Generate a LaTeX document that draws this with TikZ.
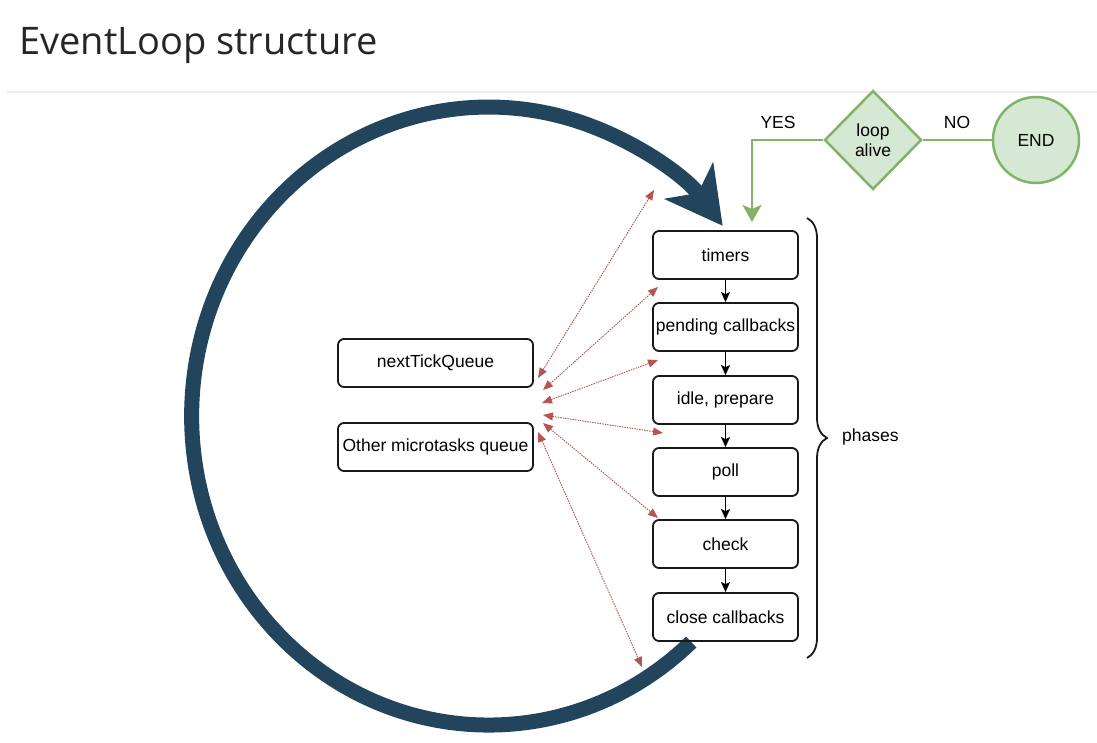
\documentclass[tikz,border=0pt]{standalone}
\usepackage{fontspec}
\setmainfont{Liberation Sans}
\newfontfamily\titlefont{Open Sans}
\usetikzlibrary{arrows.meta,shapes.geometric,decorations.pathreplacing}
\definecolor{loopblue}{HTML}{23445D}
\definecolor{gfill}{HTML}{D5E8D4}
\definecolor{gline}{HTML}{82B366}
\definecolor{rline}{HTML}{B85450}
\begin{document}
\begin{tikzpicture}[x=1pt,y=1pt,
  lbl/.style={font=\fontsize{17.5}{20}\selectfont, text=black},
  phasebox/.style={lbl, draw=black!90, line width=1.8pt, rounded corners=6pt,
    minimum width=145pt, minimum height=48pt, inner sep=0pt},
  queuebox/.style={phasebox, minimum width=195pt},
  flow/.style={black, line width=1.3pt, -{Stealth[length=10pt,width=9pt,inset=2pt]}},
  micro/.style={rline, line width=0.9pt, dash pattern=on 1.5pt off 1pt,
    {Triangle[length=10pt,width=8pt]}-{Triangle[length=10pt,width=8pt]}},
  gconn/.style={gline, line width=2.5pt},
]
\useasboundingbox (0,0) rectangle (1097,-742);
\fill[white] (0,0) rectangle (1097,-742);

% title
\node[anchor=base west, inner sep=0pt, font=\titlefont\fontsize{38}{44}\selectfont, text=black!85] (title) at (19,-54) {EventLoop structure};
\draw[black!7, line width=2pt] (7,-92) -- (1097,-92);

% big loop arc
\coordinate (c) at (490,-417.5);
\draw[loopblue, line width=15pt, -{Stealth[length=56pt,width=60pt,inset=15pt]}]
  ([shift={(-47:295 and 307)}]c) arc[start angle=-47, end angle=-322, x radius=297, y radius=309];

% phases
\node[phasebox] (timers)  at (725.5,-255) {timers};
\node[phasebox] (pending) at (725.5,-327) {pending callbacks};
\node[phasebox] (idle)    at (725.5,-400) {idle, prepare};
\node[phasebox] (poll)    at (725.5,-472) {poll};
\node[phasebox] (check)   at (725.5,-544) {check};
\node[phasebox] (close)   at (725.5,-617) {close callbacks};

\draw[flow] (timers) -- (pending);
\draw[flow] (pending) -- (idle);
\draw[flow] (idle) -- (poll);
\draw[flow] (poll) -- (check);
\draw[flow] (check) -- (close);

% queues
\node[queuebox] (tick)  at (435.5,-363) {nextTickQueue};
\node[queuebox] (other) at (435.5,-447) {Other microtasks queue};

% brace
\draw[decorate, decoration={brace, amplitude=20pt}, line width=1.8pt, black!90] (807,-218) -- (807,-658);
\node[lbl, anchor=west, inner sep=0pt] (phases) at (842,-437) {phases};

% loop alive / END
\node[diamond, draw=gline, fill=gfill, line width=2.5pt, minimum width=97pt, minimum height=99pt,
  inner sep=0pt, align=center, lbl] (alive) at (873,-140) {loop\\alive};
\node[circle, draw=gline, fill=gfill, line width=2.5pt, minimum size=86pt, inner sep=0pt, lbl] (end) at (1036,-140) {END};
\coordinate (entry) at (752,-222);
\draw[gconn, -{Stealth[length=17pt,width=19pt,inset=4pt]}] (alive.west) -| (entry);
\draw[gconn] (alive.east) -- (end.west);
\node[lbl] (yes) at (778,-122) {YES};
\node[lbl] (no) at (957,-122) {NO};

% microtask arrows
\coordinate (l1) at (538,-378); \coordinate (r1) at (654,-190);
\coordinate (l2) at (543,-390); \coordinate (r2) at (658,-287);
\coordinate (l3) at (542,-403); \coordinate (r3) at (658,-360);
\coordinate (l4) at (543,-415); \coordinate (r4) at (663,-433);
\coordinate (l5) at (543,-423); \coordinate (r5) at (658,-518);
\coordinate (l6) at (538,-432); \coordinate (r6) at (642,-667);
\foreach \i in {1,...,6} { \draw[micro] (l\i) -- (r\i); }
\end{tikzpicture}
\end{document}
